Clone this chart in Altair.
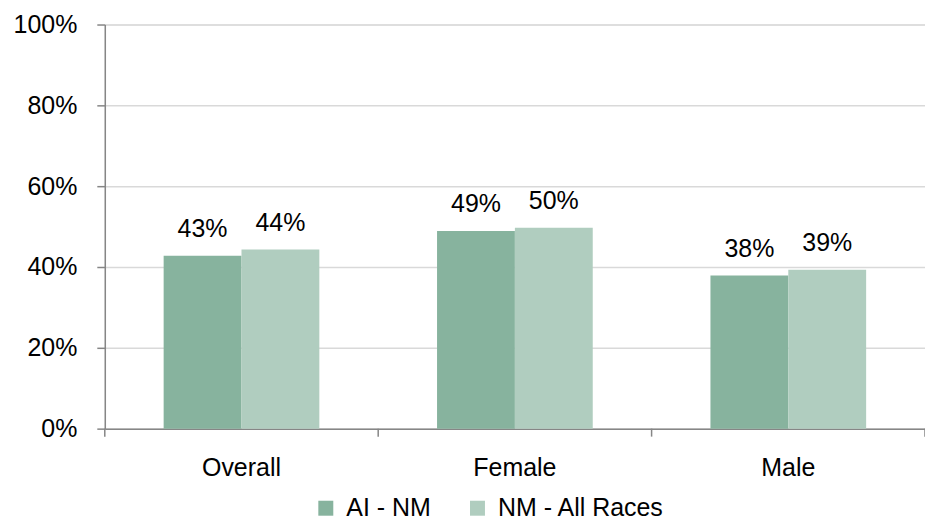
import altair as alt
import pandas as pd

categories = ["Overall", "Female", "Male"]
series_names = ["AI - NM", "NM - All Races"]
ai_nm = [0.428, 0.489, 0.379]
nm_all = [0.443, 0.497, 0.393]
y_ticks = [0, 0.2, 0.4, 0.6, 0.8, 1.0]
colors = ["#87B39E", "#B0CDBF"]
boundaries = [0, 1, 2, 3]

rows = []
for c, a, n in zip(categories, ai_nm, nm_all):
    rows.append({"Category": c, "Series": series_names[0], "Value": a})
    rows.append({"Category": c, "Series": series_names[1], "Value": n})
df = pd.DataFrame(rows)
bdf = pd.DataFrame({"b": boundaries})

FONT = "Liberation Sans"
W, H = 822, 405

x_enc = alt.X("Category:N", sort=categories,
              scale=alt.Scale(paddingInner=0, paddingOuter=0),
              axis=alt.Axis(title=None, labelAngle=0, ticks=False, labelPadding=27,
                            domainColor="#868686", domainWidth=1.5,
                            labelFontSize=25, labelColor="#000000", labelFont=FONT))
xo_enc = alt.XOffset("Series:N", sort=series_names,
                     scale=alt.Scale(paddingInner=0, paddingOuter=0.756))
y_enc = alt.Y("Value:Q", scale=alt.Scale(domain=[0, 1]),
              axis=alt.Axis(title=None, values=y_ticks, format=".0%",
                            grid=True, gridColor="#D9D9D9", gridWidth=1.5,
                            domainColor="#868686", domainWidth=1.5,
                            tickColor="#868686", tickSize=8, tickWidth=1.5,
                            labelPadding=20, labelFontSize=25,
                            labelColor="#000000", labelFont=FONT))

bars = alt.Chart(df).mark_bar().encode(
    x=x_enc,
    xOffset=xo_enc,
    y=y_enc,
    color=alt.Color("Series:N", sort=series_names,
                    scale=alt.Scale(domain=series_names, range=colors),
                    legend=alt.Legend(title=None, orient="none", direction="horizontal",
                                      legendX=209, legendY=472,
                                      symbolType="square", symbolSize=225,
                                      symbolStrokeWidth=0, labelLimit=0,
                                      labelFontSize=25, labelFont=FONT,
                                      labelColor="#000000", labelOffset=8,
                                      columnPadding=34, padding=0)),
)

labels = alt.Chart(df).mark_text(dy=-19, baseline="alphabetic", fontSize=25,
                                 font=FONT, color="#000000").encode(
    x=alt.X("Category:N", sort=categories),
    xOffset=alt.XOffset("Series:N", sort=series_names),
    y="Value:Q",
    text=alt.Text("Value:Q", format=".0%"),
)

ticks = alt.Chart(bdf).mark_rule(color="#868686", strokeWidth=1.5).encode(
    x=alt.X("b:Q", scale=alt.Scale(domain=[0, 3], nice=False, zero=False), axis=None),
    y=alt.value(H),
    y2=alt.value(H + 8),
)

main = alt.layer(bars, labels)
chart = alt.layer(main, ticks).resolve_scale(x="independent").properties(
    width=W, height=H,
    autosize=alt.AutoSizeParams(type="none"),
    padding={"left": 97, "top": 16, "right": 0, "bottom": 94},
).configure_view(stroke=None).configure(font=FONT)

chart.save("out.html", embed_options={"renderer": "svg", "actions": False})
